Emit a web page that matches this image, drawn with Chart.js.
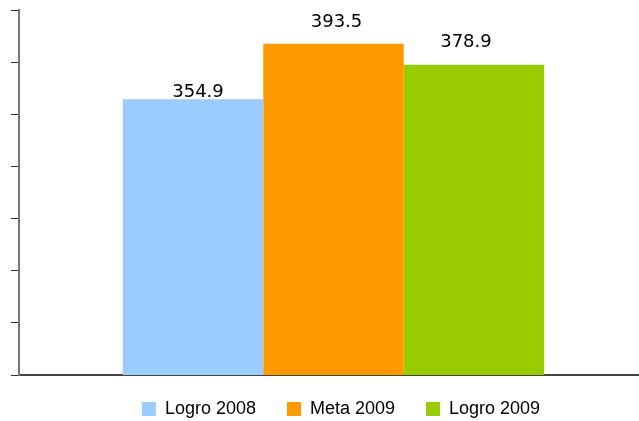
<!DOCTYPE html>
<html>
  <head>
    <meta charset="UTF-8" />
    <title>Logro vs Meta</title>
    <style>
      html, body { margin: 0; padding: 0; background: #fff; }
      #wrap { width: 639px; height: 421px; }
    </style>
  </head>
  <body>
    <div id="wrap"><canvas id="chart" width="639" height="421"></canvas></div>
    <script src="https://cdn.jsdelivr.net/npm/chart.js"></script>
    <script>
      // Values
      const seriesNames = ['Logro 2008', 'Meta 2009', 'Logro 2009'];
      const seriesValues = [354.9, 393.5, 378.9];
      const seriesColors = ['#99CCFF', '#FF9900', '#99CC00'];
      const axisMin = 163;
      const axisMax = 417;
      const tickCount = 8;

      // label nudges (px) to sit like the original
      const labelDx = [5, 3, -8];
      const labelDy = [2, 17, 18];

      // draws the value above each bar
      const valueLabels = {
        id: 'valueLabels',
        afterDatasetsDraw(chart) {
          const c = chart.ctx;
          c.save();
          c.font = '18px "DejaVu Sans"';
          c.fillStyle = '#000';
          c.textAlign = 'center';
          c.textBaseline = 'alphabetic';
          chart.data.datasets.forEach((ds, i) => {
            const bar = chart.getDatasetMeta(i).data[0];
            c.fillText(ds.data[0].toFixed(1), bar.x + labelDx[i], bar.y - labelDy[i]);
          });
          c.restore();
        },
      };

      // the original plot runs a little past the right edge and the legend
      // sits right of centre, close under the axis
      const layoutNudge = {
        id: 'layoutNudge',
        afterLayout(chart) {
          const x = chart.scales.x;
          x.right += 9; x.width += 9;
          x.configure();
          const lg = chart.legend;
          lg.left += 16; lg.right += 16;
          lg.top -= 6; lg.bottom -= 6;
        },
      };

      const ctx = document.getElementById('chart').getContext('2d');
      new Chart(ctx, {
        type: 'bar',
        data: {
          labels: [''],
          datasets: seriesNames.map((name, i) => ({
            label: name,
            data: [seriesValues[i]],
            backgroundColor: seriesColors[i],
            borderWidth: 0,
            categoryPercentage: 0.67,
            barPercentage: 1,
          })),
        },
        options: {
          responsive: false,
          animation: false,
          layout: { padding: { left: 11, right: 0, top: 10, bottom: -13 } },
          scales: {
            x: {
              grid: { display: false },
              ticks: { display: false },
              border: { color: '#444', width: 2 },
              afterFit: (scale) => { scale.height = 0; },
            },
            y: {
              min: axisMin,
              max: axisMax,
              afterBuildTicks: (scale) => {
                const step = (axisMax - axisMin) / (tickCount - 1);
                scale.ticks = [];
                for (let k = 0; k < tickCount; k++) scale.ticks.push({ value: axisMin + k * step });
              },
              ticks: { display: false },
              grid: { drawOnChartArea: false, drawTicks: true, tickLength: 8, color: '#333', lineWidth: 1 },
              border: { color: '#777', width: 2 },
            },
          },
          plugins: {
            legend: {
              position: 'bottom',
              labels: {
                boxWidth: 14,
                boxHeight: 14,
                padding: 31,
                color: '#000',
                font: { family: '"Liberation Sans", Arial', size: 18 },
              },
            },
            tooltip: { enabled: false },
          },
        },
        plugins: [valueLabels, layoutNudge],
      });
    </script>
  </body>
</html>
